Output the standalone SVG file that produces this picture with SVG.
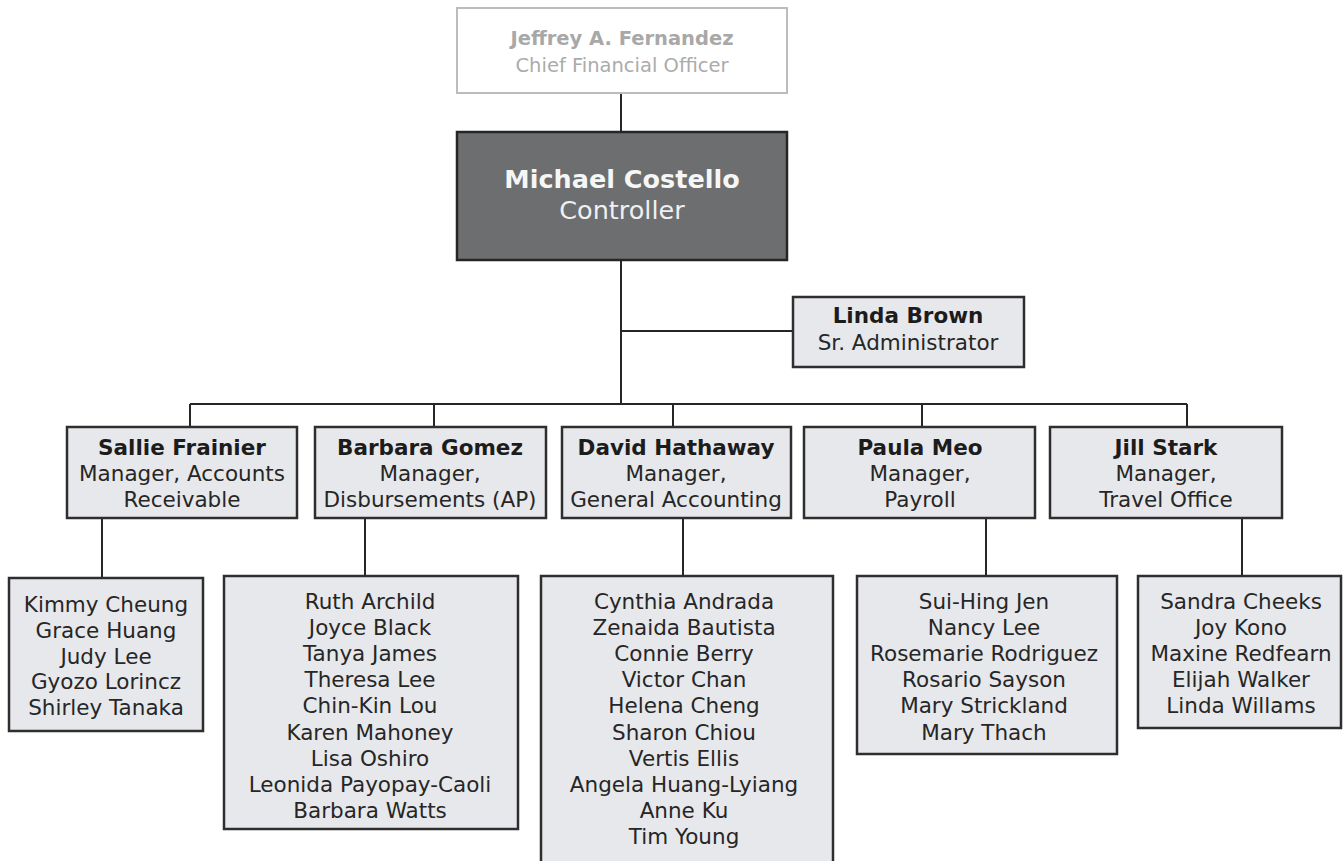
<svg xmlns="http://www.w3.org/2000/svg" width="1344" height="861" viewBox="0 0 1344 861">
  <style>
    .box { fill: #e7e8eb; stroke: #2e2e2e; stroke-width: 2.5; }
    .ctrl { fill: #6c6e70; stroke: #262626; stroke-width: 2.5; }
    .top { fill: #ffffff; stroke: #bcbcbc; stroke-width: 2; }
    .link { stroke: #262626; stroke-width: 2; fill: none; }
    text { font-family: "DejaVu Sans", Verdana, sans-serif; text-anchor: middle; }
    .t { font-size: 21.5px; fill: #262626; }
    .b { font-size: 21.5px; font-weight: bold; fill: #1c1c1c; }
    .topn { font-size: 19.5px; font-weight: bold; fill: #a8a8a8; }
    .topt { font-size: 19.5px; fill: #ababab; }
    .cn { font-size: 25.5px; font-weight: bold; fill: #f6f6f6; }
    .ct { font-size: 25.5px; fill: #f0f0f0; }
  </style>

  <!-- reporting lines -->
  <g id="connectors">
    <path class="link" d="M621 93 V132"/>
    <path class="link" d="M621 260 V404"/>
    <path class="link" d="M621 331 H793"/>
    <path class="link" d="M190 404 H1187"/>
    <path class="link" d="M190 404 V427 M434 404 V427 M673 404 V427 M922 404 V427 M1187 404 V427"/>
    <path class="link" d="M102 518 V578 M365 518 V576 M683 518 V576 M986 518 V576 M1242 518 V576"/>
  </g>

  <g id="cfo">
    <rect class="top" x="457" y="8" width="330" height="85"/>
    <text class="topn" x="622" y="45">Jeffrey A. Fernandez</text>
    <text class="topt" x="622" y="72">Chief Financial Officer</text>
  </g>

  <g id="controller">
    <rect class="ctrl" x="457" y="132" width="330" height="128"/>
    <text class="cn" x="622" y="188">Michael Costello</text>
    <text class="ct" x="622" y="219">Controller</text>
  </g>

  <g id="admin">
    <rect class="box" x="793" y="297" width="231" height="70"/>
    <text class="b" x="908" y="323">Linda Brown</text>
    <text class="t" x="908" y="350">Sr. Administrator</text>
  </g>

  <g id="mgr-ar">
    <rect class="box" x="67" y="427" width="230" height="91"/>
    <text class="b" x="182" y="455">Sallie Frainier</text>
    <text class="t" x="182" y="481">Manager, Accounts</text>
    <text class="t" x="182" y="507">Receivable</text>
  </g>

  <g id="mgr-ap">
    <rect class="box" x="315" y="427" width="231" height="91"/>
    <text class="b" x="430" y="455">Barbara Gomez</text>
    <text class="t" x="430" y="481">Manager,</text>
    <text class="t" x="430" y="507">Disbursements (AP)</text>
  </g>

  <g id="mgr-ga">
    <rect class="box" x="562" y="427" width="229" height="91"/>
    <text class="b" x="676" y="455">David Hathaway</text>
    <text class="t" x="676" y="481">Manager,</text>
    <text class="t" x="676" y="507">General Accounting</text>
  </g>

  <g id="mgr-payroll">
    <rect class="box" x="804" y="427" width="231" height="91"/>
    <text class="b" x="920" y="455">Paula Meo</text>
    <text class="t" x="920" y="481">Manager,</text>
    <text class="t" x="920" y="507">Payroll</text>
  </g>

  <g id="mgr-travel">
    <rect class="box" x="1050" y="427" width="232" height="91"/>
    <text class="b" x="1166" y="455">Jill Stark</text>
    <text class="t" x="1166" y="481">Manager,</text>
    <text class="t" x="1166" y="507">Travel Office</text>
  </g>

  <g id="team-ar">
    <rect class="box" x="9" y="578" width="194" height="153"/>
    <text class="t" x="106" y="612">Kimmy Cheung<tspan x="106" dy="25.8">Grace Huang</tspan><tspan x="106" dy="25.8">Judy Lee</tspan><tspan x="106" dy="25.8">Gyozo Lorincz</tspan><tspan x="106" dy="25.8">Shirley Tanaka</tspan></text>
  </g>

  <g id="team-ap">
    <rect class="box" x="224" y="576" width="294" height="253"/>
    <text class="t" x="370" y="609">Ruth Archild<tspan x="370" dy="26.1">Joyce Black</tspan><tspan x="370" dy="26.1">Tanya James</tspan><tspan x="370" dy="26.1">Theresa Lee</tspan><tspan x="370" dy="26.1">Chin-Kin Lou</tspan><tspan x="370" dy="26.1">Karen Mahoney</tspan><tspan x="370" dy="26.1">Lisa Oshiro</tspan><tspan x="370" dy="26.1">Leonida Payopay-Caoli</tspan><tspan x="370" dy="26.1">Barbara Watts</tspan></text>
  </g>

  <g id="team-ga">
    <rect class="box" x="541" y="576" width="292" height="300"/>
    <text class="t" x="684" y="609">Cynthia Andrada<tspan x="684" dy="26.1">Zenaida Bautista</tspan><tspan x="684" dy="26.1">Connie Berry</tspan><tspan x="684" dy="26.1">Victor Chan</tspan><tspan x="684" dy="26.1">Helena Cheng</tspan><tspan x="684" dy="26.1">Sharon Chiou</tspan><tspan x="684" dy="26.1">Vertis Ellis</tspan><tspan x="684" dy="26.1">Angela Huang-Lyiang</tspan><tspan x="684" dy="26.1">Anne Ku</tspan><tspan x="684" dy="26.1">Tim Young</tspan></text>
  </g>

  <g id="team-payroll">
    <rect class="box" x="857" y="576" width="260" height="178"/>
    <text class="t" x="984" y="609">Sui-Hing Jen<tspan x="984" dy="26.1">Nancy Lee</tspan><tspan x="984" dy="26.1">Rosemarie Rodriguez</tspan><tspan x="984" dy="26.1">Rosario Sayson</tspan><tspan x="984" dy="26.1">Mary Strickland</tspan><tspan x="984" dy="26.1">Mary Thach</tspan></text>
  </g>

  <g id="team-travel">
    <rect class="box" x="1138" y="576" width="203" height="152"/>
    <text class="t" x="1241" y="609">Sandra Cheeks<tspan x="1241" dy="26.1">Joy Kono</tspan><tspan x="1241" dy="26.1">Maxine Redfearn</tspan><tspan x="1241" dy="26.1">Elijah Walker</tspan><tspan x="1241" dy="26.1">Linda Willams</tspan></text>
  </g>
</svg>
